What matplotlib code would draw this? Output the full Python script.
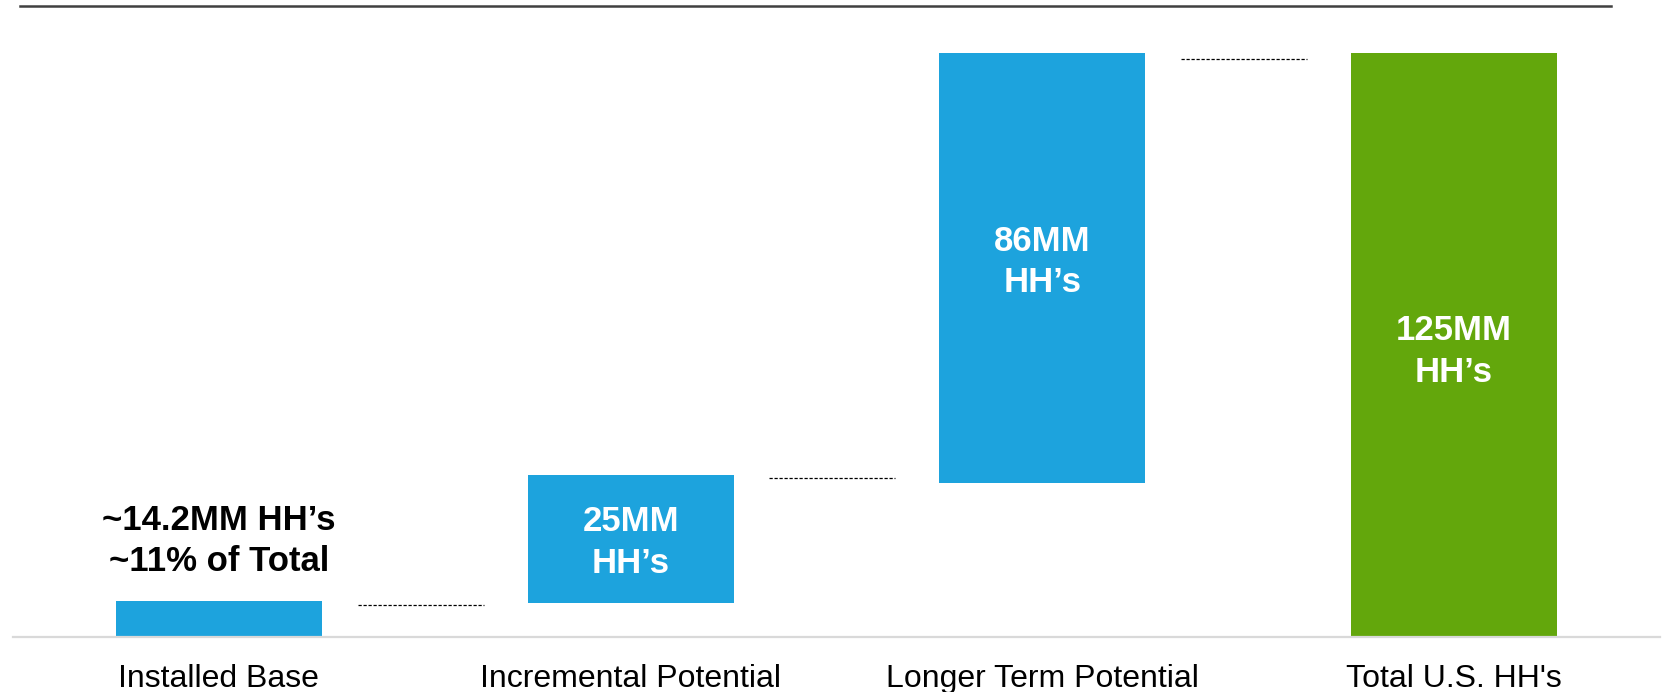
import numpy as np
import matplotlib
matplotlib.use("Agg")
import matplotlib.pyplot as plt
from matplotlib.lines import Line2D

plt.rcParams["font.family"] = ["Liberation Sans", "DejaVu Sans"]

# ── data (chart units where total = 125) ──────────────────────────────────────
categories = ["Installed Base", "Incremental Potential",
              "Longer Term Potential", "Total U.S. HH's"]
bar_bottom = [0.0, 7.3, 33.0, 0.0]
bar_top    = [7.7, 34.7, 125.0, 125.0]
connector_y = [6.85, 34.0, 123.7]
bar_text   = [None, "25MM\nHH\u2019s", "86MM\nHH\u2019s", "125MM\nHH\u2019s"]
top_note   = "~14.2MM HH\u2019s\n~11% of Total"

BLUE, GREEN = "#1DA3DD", "#63A70C"
colors = [BLUE, BLUE, BLUE, GREEN]

fig = plt.figure(figsize=(16.65, 6.92), dpi=100)
W, H = 1665, 692
# axes: baseline at y=637px, x from 13 to 1660 px
ax = fig.add_axes([13 / W, (H - 637) / H, (1660 - 13) / W, (637 - 5) / H])
px_per_unit = 584 / 125.0
ax.set_xlim(-0.5, 3.5)
ax.set_ylim(0, (637 - 5) / px_per_unit)

x = np.arange(len(categories))
heights = np.array(bar_top) - np.array(bar_bottom)
ax.bar(x, heights, width=0.5, bottom=bar_bottom, color=colors, zorder=2)

# dashed connectors between bars
for i, yc in enumerate(connector_y):
    ax.plot([i + 0.337, i + 0.643], [yc, yc], color="black", lw=0.9,
            ls=(0, (2.6, 1.4)), zorder=3)

# labels inside bars (small nudges in px, as placed in the source slide)
nudge_px = [0, 3.6, -6, 6.5]
for i, t in enumerate(bar_text):
    if t is None:
        continue
    ym = (bar_bottom[i] + bar_top[i]) / 2 - nudge_px[i] / px_per_unit
    ax.text(x[i], ym, t, ha="center", va="center", color="white",
            fontsize=25, fontweight="bold", linespacing=1.32)

# note above installed base
ax.text(x[0], 96 / px_per_unit, top_note, ha="center", va="center",
        color="black", fontsize=25, fontweight="bold", linespacing=1.32)

for s in ["top", "left", "right"]:
    ax.spines[s].set_visible(False)
ax.spines["bottom"].set_color("#d9d9d9")
ax.spines["bottom"].set_linewidth(1.6)
ax.set_yticks([])
ax.set_xticks(x)
ax.set_xticklabels(categories, fontsize=23)
ax.tick_params(axis="x", length=0, pad=19.5)

# dark rule across the top
fig.add_artist(Line2D([20 / W, 1611 / W], [1 - 5.5 / H, 1 - 5.5 / H],
                      color="#404040", lw=1.8))

fig.savefig("out.png", dpi=100)
